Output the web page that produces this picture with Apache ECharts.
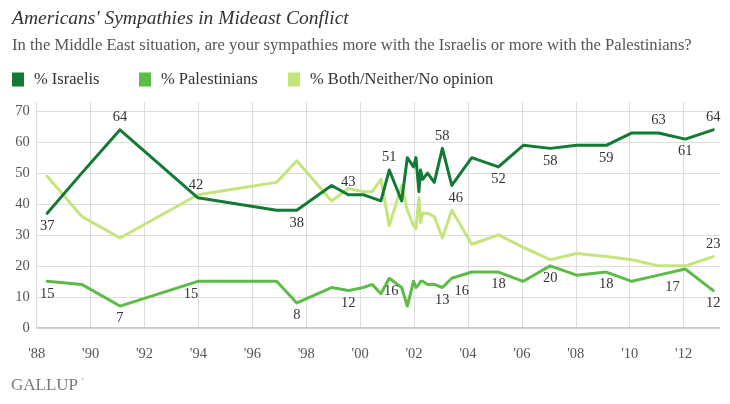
<!DOCTYPE html>
<html><head><meta charset="utf-8">
<script src="https://cdn.jsdelivr.net/npm/echarts@6/dist/echarts.min.js"></script>
<style>html,body{margin:0;padding:0;background:#fff}#c{width:730px;height:404px}</style>
</head><body><div id="c"></div>
<script>
// ---- data ----
const years = [1988.39, 1989.67, 1991.09, 1993.98, 1996.9, 1997.65, 1998.94, 1999.56, 2000.12, 2000.45,
  2000.77, 2001.08, 2001.54, 2001.75, 2001.98, 2002.07, 2002.18, 2002.24, 2002.32, 2002.5,
  2002.75, 2003.05, 2003.4, 2004.14, 2005.13, 2006.05, 2007.05, 2008.03, 2009.13, 2010.08,
  2011.07, 2012.06, 2013.1];
const israelis = [37, 50, 64, 42, 38, 38, 46, 43, 43, 42, 41, 51, 41, 55, 52, 55, 44, 51, 48, 50,
  47, 58, 46, 55, 52, 59, 58, 59, 59, 63, 63, 61, 64];
const palestinians = [15, 14, 7, 15, 15, 8, 13, 12, 13, 14, 11, 16, 13, 7, 15, 13, 14, 15, 15, 14,
  14, 13, 16, 18, 18, 15, 20, 17, 18, 15, 17, 19, 12];
const bothNeither = [49, 36, 29, 43, 47, 54, 41, 45, 44, 44, 48, 33, 46, 38, 33, 32, 42, 34, 37, 37,
  36, 29, 38, 27, 30, 26, 22, 24, 23, 22, 20, 20, 23];
const seriesNames = ['% Israelis', '% Palestinians', '% Both/Neither/No opinion'];
const xTickLabels = ["'88", "'90", "'92", "'94", "'96", "'98", "'00", "'02", "'04", "'06", "'08", "'10", "'12"];
const yTickLabels = ['0', '10', '20', '30', '40', '50', '60', '70'];

// ---- which points carry a value label (placement config) ----
const israelisLabels = {0: ['bottom', 0], 2: ['top', 0], 3: ['top', -2], 5: ['bottom', 0], 7: ['top', 0],
  11: ['top', 0], 21: ['top', 0], 22: ['bottom', 4], 24: ['bottom', 0], 26: ['bottom', 0],
  28: ['bottom', 0], 30: ['top', 0], 31: ['bottom', 0], 32: ['top', 0]};
const palestiniansLabels = {0: ['bottom', 0], 2: ['bottom', 0], 3: ['bottom', -7], 5: ['bottom', 0],
  7: ['bottom', 0], 11: ['bottom', 2], 21: ['bottom', 0], 22: ['bottom', 10], 24: ['bottom', 0],
  26: ['bottom', 0], 28: ['bottom', 0], 30: ['bottom', 14], 32: ['bottom', 0]};
const bothLabels = {32: ['top', 0]};

const colors = ['#127a34', '#5dbb47', '#c4e57c'];
const FONT = '"Liberation Serif", "DejaVu Serif", serif';

function build(vals, labels) {
  return vals.map((v, i) => {
    const item = {value: [years[i], v]};
    if (labels[i]) {
      item.label = {show: true, position: labels[i][0], offset: [labels[i][1], 0]};
    }
    return item;
  });
}

const chart = echarts.init(document.getElementById('c'), null, {renderer: 'canvas'});
const gridColor = '#dcdcdc';
const xSplitColors = xTickLabels.map(() => gridColor).concat(['rgba(0,0,0,0)']);
const ySplitColors = yTickLabels.map(() => gridColor).concat(['rgba(0,0,0,0)']);

function mkSeries(idx, vals, labels, z) {
  return {
    name: seriesNames[idx], type: 'line', data: build(vals, labels), z: z,
    symbol: 'circle', symbolSize: 0.01, showSymbol: true,
    itemStyle: {color: colors[idx]},
    lineStyle: {color: colors[idx], width: 3, join: 'round', cap: 'round'},
    label: {show: false, color: '#333', fontFamily: FONT, fontSize: 14.5, distance: 5,
      formatter: p => String(p.value[1])},
    emphasis: {disabled: true}
  };
}

chart.setOption({
  animation: false,
  title: [
    {text: "Americans' Sympathies in Mideast Conflict", left: 12, top: 9, padding: 0,
      textStyle: {fontFamily: FONT, fontStyle: 'italic', fontWeight: 'normal', fontSize: 19.5, color: '#333'}},
    {text: 'In the Middle East situation, are your sympathies more with the Israelis or more with the Palestinians?',
      left: 12, top: 37, padding: 0, textStyle: {fontFamily: FONT, fontWeight: 'normal', fontSize: 16.6, color: '#555'}}
  ],
  legend: [0, 1, 2].map((i, k) => ({
    data: [seriesNames[i]], left: [12, 139, 288][k], top: 71, padding: 0, icon: 'rect',
    itemWidth: 12, itemHeight: 14, itemGap: 0, selectedMode: false,
    textStyle: {fontFamily: FONT, fontSize: 16.5, color: '#333', padding: [0, 0, 0, 5]}
  })),
  grid: {left: 36.7, right: 10, top: 102, bottom: 76.3, containLabel: false},
  xAxis: {
    type: 'value', min: 1988, max: 2013.35, interval: 2,
    axisLine: {show: true, lineStyle: {color: '#c4c4c4', width: 1.5}},
    axisTick: {show: false},
    axisLabel: {showMaxLabel: false, margin: 19, color: '#555', fontFamily: FONT, fontSize: 14.5,
      formatter: v => {const k = Math.round((v - 1988) / 2); return (Math.abs(v - 1988 - 2 * k) < 1e-6 && xTickLabels[k]) || '';}},
    splitLine: {show: true, lineStyle: {color: xSplitColors, width: 1}}
  },
  yAxis: {
    type: 'value', min: 0, max: 73, interval: 10,
    axisLine: {show: false}, axisTick: {show: false},
    axisLabel: {showMaxLabel: false, margin: 7, color: '#555', fontFamily: FONT, fontSize: 14.5,
      formatter: v => {const k = Math.round(v / 10); return (Math.abs(v - 10 * k) < 1e-6 && yTickLabels[k]) || '';}},
    splitLine: {show: true, lineStyle: {color: ySplitColors, width: 1}}
  },
  graphic: [
    {type: 'text', left: 11, top: 377, style: {text: 'GALLUP', font: '17px ' + FONT, fill: '#7a7a7a'}},
    {type: 'text', left: 81, top: 378, style: {text: '\u2019', font: '8px ' + FONT, fill: '#7a7a7a'}}
  ],
  series: [
    mkSeries(2, bothNeither, bothLabels, 2),
    mkSeries(1, palestinians, palestiniansLabels, 3),
    mkSeries(0, israelis, israelisLabels, 4)
  ]
});
</script></body></html>
